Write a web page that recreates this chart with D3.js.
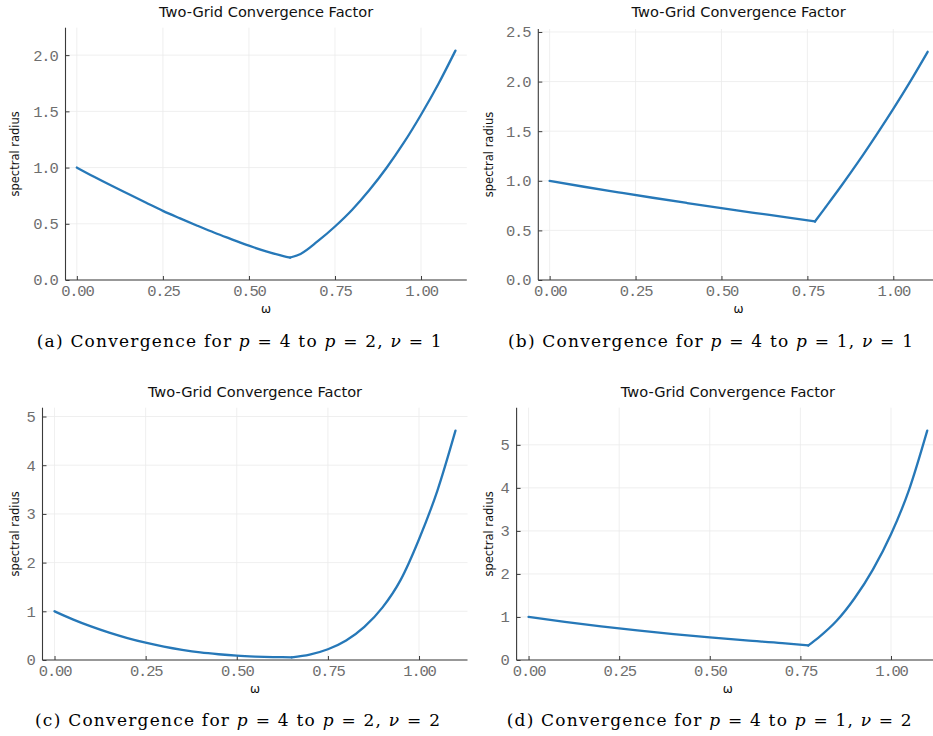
<!DOCTYPE html>
<html><head><meta charset="utf-8">
<script src="https://cdn.jsdelivr.net/npm/d3@7"></script>
<style>body{margin:0;background:#fff;} svg{display:block;}</style>
</head><body>
<svg id="c" width="933" height="736"></svg>
<script>
// ---- data ----
const xA = [0,0.05,0.1,0.15,0.2,0.25,0.3,0.35,0.4,0.45,0.5,0.55,0.6,0.62,0.65,0.7,0.75,0.8,0.85,0.9,0.95,1.0,1.05,1.1];
const yA = [1.0,0.918,0.84,0.765,0.69,0.615,0.548,0.483,0.42,0.362,0.305,0.255,0.213,0.2,0.232,0.345,0.476,0.625,0.80,0.998,1.221,1.47,1.741,2.04];
const xB = [0,0.1,0.2,0.3,0.4,0.5,0.6,0.7,0.772,0.8,0.85,0.9,0.95,1.0,1.05,1.1];
const yB = [1.0,0.94,0.884,0.829,0.776,0.724,0.675,0.627,0.59,0.72,0.955,1.2,1.458,1.725,2.005,2.30];
const xC = [0,0.05,0.1,0.15,0.2,0.25,0.3,0.35,0.4,0.45,0.5,0.55,0.6,0.651,0.7,0.75,0.8,0.85,0.9,0.95,1.0,1.05,1.1];
const yC = [1.0,0.835,0.69,0.562,0.451,0.356,0.276,0.21,0.156,0.118,0.089,0.071,0.06,0.055,0.11,0.22,0.40,0.68,1.08,1.65,2.48,3.47,4.71];
const xD = [0,0.1,0.2,0.3,0.4,0.5,0.6,0.7,0.772,0.8,0.85,0.9,0.95,1.0,1.05,1.1];
const yD = [1.0,0.885,0.78,0.687,0.602,0.524,0.455,0.393,0.338,0.52,0.91,1.44,2.10,2.92,3.96,5.33];

const xTicks = [0,0.25,0.5,0.75,1.0];
const xTickLabels = ["0.00","0.25","0.50","0.75","1.00"];
const yTicksAB = [[0,0.5,1.0,1.5,2.0],[0,0.5,1.0,1.5,2.0,2.5]];
const yTickLabelsAB = [["0.0","0.5","1.0","1.5","2.0"],["0.0","0.5","1.0","1.5","2.0","2.5"]];
const yTicksCD = [0,1,2,3,4,5];
const yTickLabelsCD = ["0","1","2","3","4","5"];

const titleText = "Two-Grid Convergence Factor";
const yLabelText = "spectral radius";
const xLabelText = "ω";
const captions = [
  ["(a) Convergence for ", "p", " = 4 to ", "p", " = 2, ", "ν", " = 1"],
  ["(b) Convergence for ", "p", " = 4 to ", "p", " = 1, ", "ν", " = 1"],
  ["(c) Convergence for ", "p", " = 4 to ", "p", " = 2, ", "ν", " = 2"],
  ["(d) Convergence for ", "p", " = 4 to ", "p", " = 1, ", "ν", " = 2"]
];

// ---- layout ----
const panels = [
  {x:xA, y:yA, yt:yTicksAB[0], ytl:yTickLabelsAB[0], L:65.5, R:466.8, T:27.7, B:280, titleY:17.3, xlabY:312.5, capX:36.7, capY:346.7},
  {x:xB, y:yB, yt:yTicksAB[1], ytl:yTickLabelsAB[1], L:538.3, R:939, T:29, B:280, titleY:17.3, xlabY:312.5, capX:508, capY:346.7},
  {x:xC, y:yC, yt:yTicksCD, ytl:yTickLabelsCD, L:42.5, R:467.5, T:407.7, B:660, titleY:396.8, xlabY:692.5, capX:35, capY:726},
  {x:xD, y:yD, yt:yTicksCD, ytl:yTickLabelsCD, L:516.6, R:939.2, T:407.7, B:660, titleY:396.8, xlabY:692.5, capX:506.7, capY:726}
];
const yLabX = [19, 492.5, 19, 492.5];

const svg = d3.select("#c");
const lineColor = "#2678b8";

panels.forEach((p, i) => {
  const g = svg.append("g");
  const xs = d3.scaleLinear().domain([-0.033, 1.133]).range([p.L, p.R]);
  const ymax = d3.max(p.y) * 1.1;
  const ys = d3.scaleLinear().domain([0, ymax]).range([p.B, p.T]);

  // grid
  g.append("g").selectAll("line").data(xTicks).join("line")
    .attr("x1", d => xs(d)).attr("x2", d => xs(d))
    .attr("y1", p.T).attr("y2", p.B)
    .attr("stroke", "#ebebeb").attr("stroke-width", 0.8);
  g.append("g").selectAll("line").data(p.yt).join("line")
    .attr("x1", p.L).attr("x2", p.R)
    .attr("y1", d => ys(d)).attr("y2", d => ys(d))
    .attr("stroke", "#ebebeb").attr("stroke-width", 0.8);

  // axes
  const xAxis = d3.axisBottom(xs).tickValues(xTicks).tickSizeInner(-4).tickSizeOuter(0).tickPadding(5)
    .tickFormat((d, k) => xTickLabels[k]);
  const yAxis = d3.axisLeft(ys).tickValues(p.yt).tickSizeInner(-4).tickSizeOuter(0).tickPadding(8)
    .tickFormat((d, k) => p.ytl[k]);
  const gx = g.append("g").attr("transform", `translate(0,${p.B})`).call(xAxis);
  const gy = g.append("g").attr("transform", `translate(${p.L},0)`).call(yAxis);
  [gx, gy].forEach(ax => {
    ax.select(".domain").attr("stroke", "#3a3a3a").attr("stroke-width", 1.1);
    ax.selectAll(".tick line").attr("stroke", "#3a3a3a").attr("stroke-width", 1);
    ax.selectAll(".tick text").attr("fill", "#6e6e6e")
      .attr("font-family", "'Liberation Mono', monospace").attr("font-size", 15.5)
      .attr("letter-spacing", "-1.2px");
  });
  gx.select(".domain").attr("d", `M${p.L},0H${p.R}`);
  gy.select(".domain").attr("d", `M0,${p.B}V${p.T}`);

  // curve split at minimum
  const pts = p.x.map((xv, k) => [xv, p.y[k]]);
  const kmin = d3.minIndex(p.y);
  const line = d3.line().x(d => xs(d[0])).y(d => ys(d[1])).curve(d3.curveMonotoneX);
  [pts.slice(0, kmin + 1), pts.slice(kmin)].forEach(seg => {
    g.append("path").attr("d", line(seg)).attr("fill", "none")
      .attr("stroke", lineColor).attr("stroke-width", 2.3)
      .attr("stroke-linejoin", "round").attr("stroke-linecap", "round");
  });

  // title
  g.append("text").attr("x", (p.L + p.R) / 2).attr("y", p.titleY)
    .attr("text-anchor", "middle").attr("font-family", "'DejaVu Sans', sans-serif")
    .attr("font-size", 14.6).attr("fill", "#111").text(titleText);
  // y label
  const cy = (p.T + p.B) / 2;
  g.append("text").attr("transform", `translate(${yLabX[i]},${cy}) rotate(-90)`)
    .attr("text-anchor", "middle").attr("font-family", "'DejaVu Sans', sans-serif")
    .attr("font-size", 11.5).attr("fill", "#111").text(yLabelText);
  // x label
  g.append("text").attr("x", (p.L + p.R) / 2).attr("y", p.xlabY)
    .attr("text-anchor", "middle").attr("font-family", "'DejaVu Sans', sans-serif")
    .attr("font-size", 12).attr("fill", "#111").text(xLabelText);

  // caption
  const cap = g.append("text").attr("x", p.capX).attr("y", p.capY)
    .attr("font-family", "'DejaVu Serif', 'Liberation Serif', serif")
    .attr("font-size", 17).attr("fill", "#000")
    .attr("textLength", 405).attr("lengthAdjust", "spacing");
  captions[i].forEach((s, k) => {
    cap.append("tspan").attr("font-style", (k === 1 || k === 3 || k === 5) ? "italic" : "normal").text(s);
  });
});
</script>
</body></html>
